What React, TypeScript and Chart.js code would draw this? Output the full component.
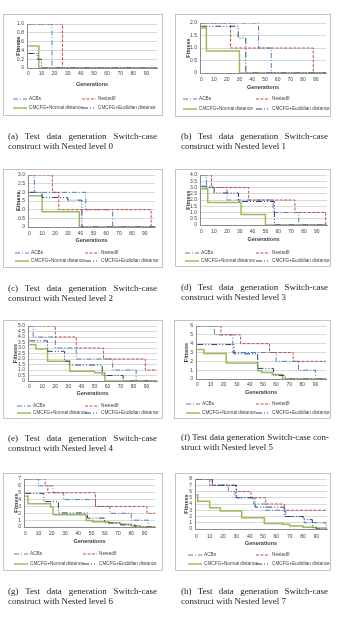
import React, { useEffect, useRef } from 'react';
import { Chart, registerables } from 'chart.js';
Chart.register(...registerables);

// ---------- data ----------
const X_TICKS = [0, 10, 20, 30, 40, 50, 60, 70, 80, 90];
const SERIES_NAMES = ['ACBs', 'NestedIf', 'CMCFG+Normal distance', 'CMCFG+Euclidian distance'];

// (a) nested level 0
const A_Y_TICKS = [0, 0.2, 0.4, 0.6, 0.8, 1];
const A_ACBS_GEN = [0, 18, 98];
const A_ACBS_FIT = [1, 0, 0];
const A_NESTED_GEN = [0, 26, 98];
const A_NESTED_FIT = [1, 0, 0];
const A_NORMAL_GEN = [0, 8, 98];
const A_NORMAL_FIT = [0.5, 0, 0];
const A_EUCLID_GEN = [0, 7, 10, 98];
const A_EUCLID_FIT = [0.33, 0.2, 0, 0];

// (b) nested level 1
const B_Y_TICKS = [0, 0.5, 1, 1.5, 2];
const B_ACBS_GEN = [0, 45, 55, 98];
const B_ACBS_FIT = [2, 1, 0, 0];
const B_NESTED_GEN = [0, 23, 88, 98];
const B_NESTED_FIT = [2, 1, 0, 0];
const B_NORMAL_GEN = [0, 4, 30, 98];
const B_NORMAL_FIT = [1.8, 0.88, 0, 0];
const B_EUCLID_GEN = [0, 29, 35, 98];
const B_EUCLID_FIT = [1.87, 1.4, 0, 0];

// (c) nested level 2
const C_Y_TICKS = [0, 0.5, 1, 1.5, 2, 2.5, 3];
const C_ACBS_GEN = [0, 4, 44, 65, 98];
const C_ACBS_FIT = [3, 2, 1, 0, 0];
const C_NESTED_GEN = [0, 18, 23, 95, 98];
const C_NESTED_FIT = [3, 2, 1, 0, 0];
const C_NORMAL_GEN = [0, 10, 39, 98];
const C_NORMAL_FIT = [1.8, 0.88, 0, 0];
const C_EUCLID_GEN = [0, 10, 30, 41, 98];
const C_EUCLID_FIT = [2, 1.7, 1.55, 0, 0];

// (d) nested level 3
const D_Y_TICKS = [0, 0.5, 1, 1.5, 2, 2.5, 3, 3.5, 4];
const D_ACBS_GEN = [0, 4, 20, 56, 76, 98];
const D_ACBS_FIT = [4, 3, 2, 1, 0, 0];
const D_NESTED_GEN = [0, 8, 37, 73, 97, 98];
const D_NESTED_FIT = [4, 3, 2, 1, 0, 0];
const D_NORMAL_GEN = [0, 5, 31, 50, 98];
const D_NORMAL_FIT = [2.9, 1.8, 0.85, 0, 0];
const D_EUCLID_GEN = [0, 10, 29, 57, 98];
const D_EUCLID_FIT = [3.1, 2.56, 1.88, 0, 0];

// (e) nested level 4
const E_Y_TICKS = [0, 0.5, 1, 1.5, 2, 2.5, 3, 3.5, 4, 4.5, 5];
const E_ACBS_GEN = [0, 3, 20, 36, 64, 82, 98];
const E_ACBS_FIT = [5, 4, 3, 2, 1, 0, 0];
const E_NESTED_GEN = [0, 20, 36, 57, 89, 98];
const E_NESTED_FIT = [5, 4, 3, 2, 1, 1];
const E_NORMAL_GEN = [0, 5, 14, 31, 50, 58, 98];
const E_NORMAL_FIT = [3.3, 2.9, 1.8, 0.88, 0.75, 0, 0];
const E_EUCLID_GEN = [0, 14, 27, 31, 56, 72, 98];
const E_EUCLID_FIT = [3.65, 2.7, 1.8, 1.45, 0.5, 0, 0];

// (f) nested level 5
const F_Y_TICKS = [0, 1, 2, 3, 4, 5, 6];
const F_ACBS_GEN = [0, 13, 27, 60, 77, 90, 98];
const F_ACBS_FIT = [6, 5, 3, 2, 1, 0, 0];
const F_NESTED_GEN = [0, 18, 33, 55, 73, 98];
const F_NESTED_FIT = [6, 5, 4, 3, 2, 2];
const F_NORMAL_GEN = [0, 5, 22, 46, 49, 57, 65, 98];
const F_NORMAL_FIT = [3.35, 2.9, 1.8, 0.93, 0.75, 0.5, 0, 0];
const F_EUCLID_GEN = [0, 28, 46, 58, 67, 98];
const F_EUCLID_FIT = [3.9, 2.85, 1.2, 0.4, 0, 0];

// (g) nested level 6
const G_Y_TICKS = [0, 1, 2, 3, 4, 5, 6, 7];
const G_ACBS_GEN = [0, 10, 21, 29, 53, 64, 80, 93, 98];
const G_ACBS_FIT = [7, 6, 5, 4, 3, 2, 1, 0, 0];
const G_NESTED_GEN = [0, 15, 17, 53, 92, 98];
const G_NESTED_FIT = [7, 6, 5, 3, 2, 2];
const G_NORMAL_GEN = [0, 2, 19, 21, 46, 51, 63, 72, 80, 87, 98];
const G_NORMAL_FIT = [4.5, 3.4, 2.9, 1.8, 0.93, 0.75, 0.6, 0.4, 0.2, 0, 0];
const G_EUCLID_GEN = [0, 14, 25, 47, 60, 72, 83, 98];
const G_EUCLID_FIT = [4.9, 3.7, 2.05, 1.3, 0.6, 0.3, 0, 0];

// (h) nested level 7
const H_Y_TICKS = [0, 1, 2, 3, 4, 5, 6, 7, 8];
const H_ACBS_GEN = [0, 12, 24, 29, 43, 52, 67, 81, 97, 98];
const H_ACBS_FIT = [8, 7, 6, 5, 4, 3, 2, 1, 0.5, 0.5];
const H_NESTED_GEN = [0, 10, 30, 41, 52, 66, 98];
const H_NESTED_FIT = [8, 7, 6, 5, 4, 3, 3];
const H_NORMAL_GEN = [0, 1, 10, 18, 34, 51, 65, 70, 80, 90, 98];
const H_NORMAL_FIT = [5.5, 4.45, 3.4, 2.9, 1.8, 0.9, 0.75, 0.5, 0.3, 0.15, 0.1];
const H_EUCLID_GEN = [0, 12, 30, 44, 66, 80, 87, 90, 98];
const H_EUCLID_FIT = [8, 7, 5, 3.5, 2, 1.5, 0.2, 0, 0];

const CAPTION_LINE1 = [
  '(a) Test data generation Switch-case',
  '(b) Test data generation Switch-case',
  '(c) Test data generation Switch-case',
  '(d) Test data generation Switch-case',
  '(e) Test data generation Switch-case',
  '(f) Test data generation Switch-case con-',
  '(g) Test data generation Switch-case',
  '(h) Test data generation Switch-case',
];
const CAPTION_LINE2 = [
  'construct with Nested level 0',
  'construct with Nested level 1',
  'construct with Nested level 2',
  'construct with Nested level 3',
  'construct with Nested level 4',
  'struct with Nested level 5',
  'construct with Nested level 6',
  'construct with Nested level 7',
];

// ---------- assembly ----------
type Series = { gen: number[]; fit: number[] };
const PANEL_SERIES: Series[][] = [
  [{ gen: A_ACBS_GEN, fit: A_ACBS_FIT }, { gen: A_NESTED_GEN, fit: A_NESTED_FIT }, { gen: A_NORMAL_GEN, fit: A_NORMAL_FIT }, { gen: A_EUCLID_GEN, fit: A_EUCLID_FIT }],
  [{ gen: B_ACBS_GEN, fit: B_ACBS_FIT }, { gen: B_NESTED_GEN, fit: B_NESTED_FIT }, { gen: B_NORMAL_GEN, fit: B_NORMAL_FIT }, { gen: B_EUCLID_GEN, fit: B_EUCLID_FIT }],
  [{ gen: C_ACBS_GEN, fit: C_ACBS_FIT }, { gen: C_NESTED_GEN, fit: C_NESTED_FIT }, { gen: C_NORMAL_GEN, fit: C_NORMAL_FIT }, { gen: C_EUCLID_GEN, fit: C_EUCLID_FIT }],
  [{ gen: D_ACBS_GEN, fit: D_ACBS_FIT }, { gen: D_NESTED_GEN, fit: D_NESTED_FIT }, { gen: D_NORMAL_GEN, fit: D_NORMAL_FIT }, { gen: D_EUCLID_GEN, fit: D_EUCLID_FIT }],
  [{ gen: E_ACBS_GEN, fit: E_ACBS_FIT }, { gen: E_NESTED_GEN, fit: E_NESTED_FIT }, { gen: E_NORMAL_GEN, fit: E_NORMAL_FIT }, { gen: E_EUCLID_GEN, fit: E_EUCLID_FIT }],
  [{ gen: F_ACBS_GEN, fit: F_ACBS_FIT }, { gen: F_NESTED_GEN, fit: F_NESTED_FIT }, { gen: F_NORMAL_GEN, fit: F_NORMAL_FIT }, { gen: F_EUCLID_GEN, fit: F_EUCLID_FIT }],
  [{ gen: G_ACBS_GEN, fit: G_ACBS_FIT }, { gen: G_NESTED_GEN, fit: G_NESTED_FIT }, { gen: G_NORMAL_GEN, fit: G_NORMAL_FIT }, { gen: G_EUCLID_GEN, fit: G_EUCLID_FIT }],
  [{ gen: H_ACBS_GEN, fit: H_ACBS_FIT }, { gen: H_NESTED_GEN, fit: H_NESTED_FIT }, { gen: H_NORMAL_GEN, fit: H_NORMAL_FIT }, { gen: H_EUCLID_GEN, fit: H_EUCLID_FIT }],
];
const PANEL_Y_TICKS = [A_Y_TICKS, B_Y_TICKS, C_Y_TICKS, D_Y_TICKS, E_Y_TICKS, F_Y_TICKS, G_Y_TICKS, H_Y_TICKS];

// ---------- layout & style ----------
const STYLES = [
  { color: '#4F81BD', dash: [5, 2, 1, 2], width: 1 },
  { color: '#C0504D', dash: [3, 1.5], width: 1 },
  { color: '#9BBB59', dash: [] as number[], width: 1.5 },
  { color: '#2B3F85', dash: [6, 2, 1, 2, 1, 2], width: 1 },
];

type Layout = {
  box: number[]; plot: number[]; fitX: number; tickY: number; titleY: number;
  legY: number[]; legX: number[]; cap: number[]; capY: number;
};
const LAYOUTS: Layout[] = [
  { box: [3, 14, 160, 102], plot: [27, 24, 157, 68], fitX: 18.5, tickY: 74, titleY: 84, legY: [99, 108], legX: [13, 82], cap: [8, 157], capY: 136 },
  { box: [175, 14, 156, 103], plot: [200, 23, 326, 73], fitX: 188, tickY: 80, titleY: 87, legY: [99, 109], legX: [183, 256], cap: [181, 328], capY: 136 },
  { box: [3, 169, 160, 99], plot: [28, 174, 155, 227], fitX: 18, tickY: 234, titleY: 240, legY: [253, 261], legX: [15, 85], cap: [8, 157], capY: 288 },
  { box: [175, 169, 156, 98], plot: [200, 174, 327, 225], fitX: 188, tickY: 232, titleY: 239, legY: [253, 261], legX: [185, 256], cap: [181, 328], capY: 287 },
  { box: [3, 320, 160, 99], plot: [28, 326, 157, 381], fitX: 15, tickY: 387, titleY: 393, legY: [406, 413], legX: [17, 85], cap: [8, 157], capY: 438 },
  { box: [174, 320, 157, 99], plot: [196, 326, 326, 379], fitX: 186, tickY: 385, titleY: 392, legY: [404, 413], legX: [186, 256], cap: [181, 329], capY: 437 },
  { box: [3, 473, 160, 98], plot: [24, 477, 155, 527], fitX: 16, tickY: 534, titleY: 541, legY: [554, 564], legX: [14, 83], cap: [8, 157], capY: 591 },
  { box: [175, 473, 156, 98], plot: [195, 477, 327, 529], fitX: 186, tickY: 537, titleY: 543, legY: [555, 564], legX: [188, 256], cap: [181, 328], capY: 591 },
];

const FAMILY = "'Liberation Sans', Arial, sans-serif";
const TICK_SIZE = 5;
const TITLE_SIZE = 5.5;
const TEXT_COLOR = '#404040';

function Panel({ idx }: { idx: number }) {
  const ref = useRef<HTMLCanvasElement>(null);
  const L = LAYOUTS[idx];
  const [bx, by, bw, bh] = L.box;
  const [pl, pt, pr, pb] = L.plot;
  const lh = TITLE_SIZE * 1.2;
  const canvasH = Math.ceil(L.titleY - by + lh / 2 + 2);

  useEffect(() => {
    const canvas = ref.current;
    if (!canvas) return;
    const yTicks = PANEL_Y_TICKS[idx];
    const padLeft = Math.max(0, L.fitX - bx - lh / 2);
    const yW = pl - bx - padLeft;
    const xH = L.titleY - pb + lh / 2;
    const padBottom = canvasH - (pb - by) - xH;
    const tickPadX = Math.max(0, L.tickY - pb - 3);

    const chart = new Chart(canvas, {
      type: 'line',
      data: {
        datasets: PANEL_SERIES[idx].map((s, k) => ({
          label: SERIES_NAMES[k],
          data: s.gen.map((g, i) => ({ x: g, y: s.fit[i] })),
          borderColor: STYLES[k].color,
          backgroundColor: STYLES[k].color,
          borderWidth: STYLES[k].width,
          borderDash: STYLES[k].dash,
          stepped: 'before',
          pointRadius: 0,
          fill: false,
          order: 4 - k,
        })),
      },
      options: {
        animation: false,
        responsive: false,
        maintainAspectRatio: false,
        layout: { padding: { left: padLeft, top: pt - by, right: bx + bw - pr, bottom: padBottom } },
        plugins: { legend: { display: false }, tooltip: { enabled: false } },
        scales: {
          x: {
            type: 'linear',
            min: -1,
            max: 98,
            afterBuildTicks: (ax: any) => { ax.ticks = X_TICKS.map((v) => ({ value: v })); },
            afterFit: (s: any) => { s.height = xH; },
            grid: { display: false, drawTicks: false },
            border: { display: true, color: '#8a8a8a', width: 1 },
            ticks: { padding: tickPadX, color: TEXT_COLOR, font: { size: TICK_SIZE, family: FAMILY }, maxRotation: 0, autoSkip: false },
            title: { display: true, text: 'Generations', color: TEXT_COLOR, font: { size: TITLE_SIZE, weight: 'bold', family: FAMILY }, padding: 0 },
          },
          y: {
            type: 'linear',
            min: 0,
            max: yTicks[yTicks.length - 1],
            afterBuildTicks: (ax: any) => { ax.ticks = yTicks.map((v) => ({ value: v })); },
            afterFit: (s: any) => { s.width = yW; },
            grid: { color: '#d9d9d9', drawTicks: false, lineWidth: 1 },
            border: { display: true, color: '#8a8a8a', width: 1 },
            ticks: { padding: 3, color: TEXT_COLOR, font: { size: TICK_SIZE, family: FAMILY }, autoSkip: false },
            title: { display: true, text: 'Fitness', color: TEXT_COLOR, font: { size: TITLE_SIZE, weight: 'bold', family: FAMILY }, padding: 0 },
          },
        },
      },
    } as any);
    return () => chart.destroy();
  }, []);

  const legendItem = (k: number, x: number, y: number) => (
    <div key={k} style={{ position: 'absolute', left: x, top: y - 4, height: 8, display: 'flex', alignItems: 'center', whiteSpace: 'nowrap' }}>
      <svg width={14} height={4} style={{ display: 'block' }}>
        <line x1={0} y1={2} x2={14} y2={2} stroke={STYLES[k].color} strokeWidth={STYLES[k].width}
          strokeDasharray={STYLES[k].dash.length ? STYLES[k].dash.join(' ') : undefined} />
      </svg>
      <span style={{ marginLeft: 2, fontSize: 4.7, lineHeight: '8px', fontFamily: FAMILY, color: TEXT_COLOR }}>{SERIES_NAMES[k]}</span>
    </div>
  );

  return (
    <>
      <canvas ref={ref} width={bw} height={canvasH}
        style={{ position: 'absolute', left: bx, top: by, width: bw, height: canvasH }} />
      <div style={{ position: 'absolute', left: bx, top: by, width: bw, height: bh, border: '1px solid #c4c4c4', boxSizing: 'border-box' }} />
      {legendItem(0, L.legX[0], L.legY[0])}
      {legendItem(1, L.legX[1], L.legY[0])}
      {legendItem(2, L.legX[0], L.legY[1])}
      {legendItem(3, L.legX[1], L.legY[1])}
      <div style={{ position: 'absolute', left: L.cap[0], top: L.capY - 5, width: L.cap[1] - L.cap[0], fontFamily: "'Liberation Serif', 'Times New Roman', serif", fontSize: 9, lineHeight: '10px', color: '#222' }}>
        <div style={{ textAlign: 'justify', textAlignLast: 'justify', whiteSpace: 'nowrap' }}>{CAPTION_LINE1[idx]}</div>
        <div style={{ whiteSpace: 'nowrap' }}>{CAPTION_LINE2[idx]}</div>
      </div>
    </>
  );
}

export default function App() {
  return (
    <div style={{ position: 'absolute', left: 0, top: 0, width: 337, height: 621, background: '#fff', overflow: 'hidden' }}>
      {LAYOUTS.map((_, i) => <Panel key={i} idx={i} />)}
    </div>
  );
}
